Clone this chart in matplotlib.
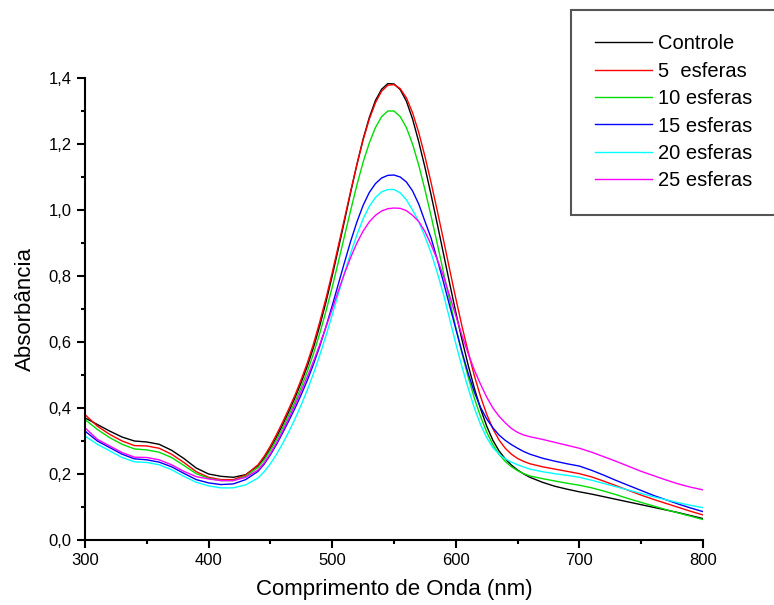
import numpy as np
import matplotlib
matplotlib.use("Agg")
import matplotlib.pyplot as plt
from matplotlib.ticker import MultipleLocator, FuncFormatter

plt.rcParams['font.family'] = ['Liberation Sans', 'DejaVu Sans']

# comprimento de onda (nm): passo de 10 nas bordas, 5 na banda
wl = (list(range(300, 440, 10)) + list(range(440, 665, 5)) + list(range(670, 801, 10)))

controle = [0.370, 0.350, 0.330, 0.312, 0.300, 0.297, 0.290, 0.272, 0.247, 0.218, 0.200, 0.193, 0.190, 0.198,
            0.225, 0.248, 0.278, 0.312, 0.350, 0.390, 0.432, 0.478, 0.528, 0.585, 0.650, 0.722, 0.800, 0.883,
            0.968, 1.055, 1.138, 1.215, 1.280, 1.332, 1.366, 1.383, 1.382, 1.365, 1.330, 1.276, 1.207, 1.130,
            1.046, 0.958, 0.868, 0.778, 0.690, 0.607, 0.530, 0.460, 0.398, 0.345, 0.302, 0.270, 0.246, 0.227,
            0.212, 0.200, 0.190,
            0.175, 0.163, 0.154, 0.146, 0.139, 0.131, 0.123, 0.115, 0.107, 0.099, 0.091, 0.083, 0.074, 0.065]
esferas5 = [0.380, 0.345, 0.320, 0.300, 0.286, 0.285, 0.278, 0.260, 0.235, 0.207, 0.190, 0.183, 0.183, 0.197,
            0.228, 0.254, 0.285, 0.320, 0.358, 0.398, 0.440, 0.487, 0.538, 0.596, 0.662, 0.733, 0.810, 0.892,
            0.975, 1.058, 1.138, 1.212, 1.275, 1.325, 1.360, 1.378, 1.380, 1.368, 1.340, 1.295, 1.235, 1.163,
            1.083, 0.998, 0.910, 0.820, 0.732, 0.648, 0.570, 0.498, 0.435, 0.381, 0.337, 0.303, 0.278, 0.260,
            0.247, 0.238, 0.231,
            0.222, 0.215, 0.208, 0.201, 0.191, 0.178, 0.164, 0.150, 0.136, 0.123, 0.111, 0.099, 0.087, 0.076]
esferas10 = [0.365, 0.335, 0.310, 0.290, 0.276, 0.273, 0.266, 0.250, 0.226, 0.201, 0.187, 0.180, 0.180, 0.193,
             0.220, 0.243, 0.272, 0.305, 0.341, 0.380, 0.420, 0.464, 0.512, 0.566, 0.627, 0.694, 0.766, 0.843,
             0.922, 1.000, 1.076, 1.145, 1.203, 1.250, 1.283, 1.300, 1.300, 1.283, 1.250, 1.200, 1.136, 1.062,
             0.982, 0.898, 0.812, 0.727, 0.644, 0.566, 0.494, 0.430, 0.374, 0.327, 0.289, 0.260, 0.238, 0.222,
             0.210, 0.201, 0.194,
             0.186, 0.179, 0.172, 0.166, 0.158, 0.148, 0.137, 0.125, 0.114, 0.103, 0.092, 0.082, 0.072, 0.062]
esferas15 = [0.330, 0.300, 0.280, 0.260, 0.246, 0.243, 0.236, 0.222, 0.202, 0.183, 0.173, 0.168, 0.170, 0.183,
             0.208, 0.230, 0.258, 0.290, 0.325, 0.362, 0.400, 0.441, 0.485, 0.534, 0.588, 0.647, 0.710, 0.776,
             0.842, 0.906, 0.964, 1.014, 1.053, 1.080, 1.097, 1.105, 1.106, 1.100, 1.085, 1.058, 1.018, 0.966,
             0.915, 0.850, 0.782, 0.710, 0.640, 0.570, 0.505, 0.448, 0.402, 0.367, 0.340, 0.318, 0.302, 0.289,
             0.278, 0.268, 0.260,
             0.248, 0.239, 0.231, 0.224, 0.211, 0.196, 0.180, 0.165, 0.150, 0.135, 0.122, 0.109, 0.097, 0.086]
esferas20 = [0.315, 0.290, 0.270, 0.250, 0.237, 0.235, 0.228, 0.213, 0.193, 0.175, 0.164, 0.158, 0.158, 0.167,
             0.188, 0.207, 0.231, 0.260, 0.293, 0.329, 0.368, 0.410, 0.456, 0.506, 0.561, 0.620, 0.682, 0.746,
             0.810, 0.870, 0.925, 0.973, 1.011, 1.038, 1.055, 1.062, 1.062, 1.052, 1.031, 1.000, 0.965, 0.920,
             0.870, 0.810, 0.745, 0.670, 0.595, 0.525, 0.460, 0.400, 0.350, 0.310, 0.280, 0.260, 0.246, 0.236,
             0.228, 0.221, 0.215,
             0.207, 0.201, 0.196, 0.190, 0.181, 0.171, 0.161, 0.151, 0.141, 0.131, 0.122, 0.113, 0.105, 0.098]
esferas25 = [0.340, 0.305, 0.285, 0.265, 0.251, 0.250, 0.243, 0.228, 0.208, 0.192, 0.185, 0.180, 0.180, 0.190,
             0.212, 0.234, 0.262, 0.295, 0.331, 0.370, 0.410, 0.452, 0.496, 0.543, 0.593, 0.646, 0.700, 0.755,
             0.808, 0.857, 0.900, 0.936, 0.964, 0.984, 0.997, 1.004, 1.006, 1.005, 0.998, 0.984, 0.965, 0.935,
             0.895, 0.850, 0.800, 0.740, 0.680, 0.620, 0.565, 0.515, 0.472, 0.433, 0.400, 0.375, 0.355, 0.338,
             0.326, 0.318, 0.313,
             0.305, 0.296, 0.287, 0.278, 0.266, 0.252, 0.238, 0.223, 0.208, 0.195, 0.182, 0.170, 0.160, 0.152]

labels = ['Controle', '5  esferas', '10 esferas', '15 esferas', '20 esferas', '25 esferas']
colors = ['#000000', '#ff0000', '#00dd00', '#0000ff', '#00ffff', '#ff00ff']
series = [controle, esferas5, esferas10, esferas15, esferas20, esferas25]

fig = plt.figure(figsize=(7.74, 6.05), dpi=100)
ax = fig.add_axes([85 / 774, 65 / 605, 618 / 774, 462 / 605])

for y, c, lab in zip(series, colors, labels):
    ax.plot(wl, y, color=c, lw=1.0, label=lab)

ax.set_xlim(300, 800)
ax.set_ylim(0, 1.4)
ax.xaxis.set_major_locator(MultipleLocator(100))
ax.xaxis.set_minor_locator(MultipleLocator(50))
ax.yaxis.set_major_locator(MultipleLocator(0.2))
ax.yaxis.set_minor_locator(MultipleLocator(0.1))
ax.yaxis.set_major_formatter(FuncFormatter(lambda v, p: f"{v:.1f}".replace('.', ',')))

for s in ['top', 'right']:
    ax.spines[s].set_visible(False)
for s in ['left', 'bottom']:
    ax.spines[s].set_linewidth(1.5)
ax.tick_params(which='major', direction='out', length=6, width=1.5, labelsize=12)
ax.tick_params(which='minor', direction='out', length=3, width=1.5)

ax.set_xlabel('Comprimento de Onda (nm)', fontsize=16, labelpad=8)
ax.set_ylabel('Absorbância', fontsize=16, labelpad=9)

leg = fig.legend(loc='upper left', bbox_to_anchor=(571 / 774, 1 - 10 / 605),
                 fontsize=14.5, frameon=True, fancybox=False, framealpha=1,
                 edgecolor='#555555', borderpad=1.2, handlelength=2.8,
                 handletextpad=0.3, labelspacing=0.42, borderaxespad=0)
leg.get_frame().set_linewidth(1.5)

fig.savefig('out.png', dpi=100)
